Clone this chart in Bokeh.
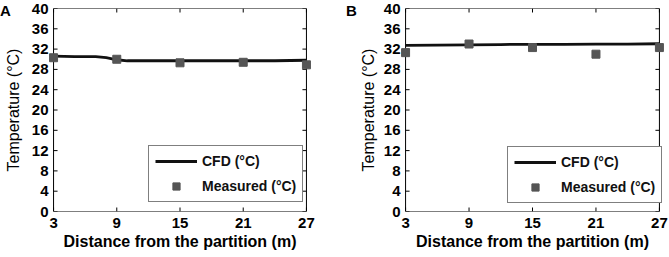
import math
from bokeh.plotting import figure
from bokeh.layouts import row
from bokeh.models import Legend, LegendItem, FixedTicker, Range1d, Div
from bokeh.embed import file_html
from bokeh.resources import INLINE

# Distance from the partition (m)
measured_x = [3, 9, 15, 21, 27]
x_ticks = [3, 9, 15, 21, 27]
y_ticks = [0, 4, 8, 12, 16, 20, 24, 28, 32, 36, 40]
x_min, x_max = 3, 27
y_min, y_max = 0, 40

# Panel A
cfd_a_x = [3, 5, 7, 8, 9, 10, 12, 15, 18, 21, 24, 27]
cfd_a_y = [30.6, 30.5, 30.5, 30.3, 29.9, 29.7, 29.7, 29.7, 29.7, 29.7, 29.7, 29.8]
meas_a = [30.3, 30.0, 29.3, 29.4, 28.9]

# Panel B
cfd_b_x = [3, 6, 9, 12, 15, 18, 21, 24, 27]
cfd_b_y = [32.75, 32.8, 32.85, 32.9, 32.95, 32.95, 33.0, 33.0, 33.05]
meas_b = [31.3, 33.0, 32.3, 31.0, 32.3]

FONT = "Liberation Sans"
PAD = 0.48  # extra room in x so edge markers are not clipped


def panel(cx, cy, my, left_border, frame_w, right_border, ylab_standoff, legend_x, legend_y):
    p = figure(frame_width=frame_w, frame_height=203,
               min_border_left=left_border, min_border_right=right_border,
               min_border_top=8, min_border_bottom=46,
               x_range=Range1d(x_min - PAD, x_max + PAD), y_range=Range1d(y_min, y_max),
               output_backend="svg", toolbar_location=None,
               x_axis_label="Distance from the partition (m)",
               y_axis_label="Temperature (\u00b0C)")
    p.grid.visible = False
    p.outline_line_color = None
    p.background_fill_color = "white"
    p.border_fill_color = None

    p.xaxis.ticker = FixedTicker(ticks=x_ticks)
    p.yaxis.ticker = FixedTicker(ticks=y_ticks)
    for ax in (p.xaxis[0], p.yaxis[0]):
        ax.major_tick_in = 0
        ax.major_tick_out = 0
        ax.minor_tick_line_color = None
        ax.axis_line_color = None
        ax.major_tick_line_color = None
        ax.major_label_text_font = FONT
        ax.major_label_text_font_style = "bold"
        ax.major_label_text_font_size = "15px"
        ax.major_label_text_color = "black"
        ax.axis_label_text_font = FONT
        ax.axis_label_text_font_size = "16px"
        ax.axis_label_text_color = "black"
    p.xaxis.axis_label_text_font_style = "bold"
    p.yaxis.axis_label_text_font_style = "normal"
    p.xaxis.major_label_standoff = 6
    p.xaxis.axis_label_standoff = 2
    p.yaxis.major_label_standoff = 0
    p.yaxis.axis_label_standoff = ylab_standoff

    # box around the data area
    p.segment(x0=[x_min, x_min, x_min, x_max], y0=[y_min, y_max, y_min, y_min],
              x1=[x_max, x_max, x_min, x_max], y1=[y_min, y_max, y_max, y_max],
              line_color="black", line_width=1)
    # inward tick marks on all four sides
    n_y, n_x = len(y_ticks), len(x_ticks)
    p.ray(x=[x_min] * n_y, y=y_ticks, length=4, length_units="screen", angle=0,
          line_color="black", line_width=1)
    p.ray(x=[x_max] * n_y, y=y_ticks, length=4, length_units="screen", angle=math.pi,
          line_color="black", line_width=1)
    p.ray(x=x_ticks, y=[y_min] * n_x, length=4, length_units="screen", angle=math.pi / 2,
          line_color="black", line_width=1)
    p.ray(x=x_ticks, y=[y_max] * n_x, length=4, length_units="screen", angle=-math.pi / 2,
          line_color="black", line_width=1)

    ln = p.line(cx, cy, line_color="#111111", line_width=2.8)
    sq = p.scatter(measured_x, my, marker="square", size=8,
                   fill_color="#555555", line_color="#555555")

    legend = Legend(items=[LegendItem(label="CFD (\u00b0C)", renderers=[ln]),
                           LegendItem(label="Measured (\u00b0C)", renderers=[sq])],
                    location=(legend_x, legend_y),
                    border_line_color="black", border_line_width=1,
                    background_fill_alpha=1.0,
                    label_text_font=FONT, label_text_font_size="14px",
                    label_text_font_style="bold", label_text_color="#111111",
                    glyph_width=42, glyph_height=18, spacing=7,
                    padding=6, margin=0, label_standoff=5)
    p.add_layout(legend, "center")
    return p


def letter(text, width):
    return Div(text=text, width=width, height=257, margin=0,
               styles={"font-family": FONT, "font-weight": "bold", "font-size": "15px",
                       "color": "black", "line-height": "1", "margin-top": "3px",
                       "overflow": "visible", "white-space": "nowrap"})


pa = panel(cfd_a_x, cfd_a_y, meas_a, 47, 263, 35, 7, 100, 9)
pb = panel(cfd_b_x, cfd_b_y, meas_b, 44, 264, 5, 4, 107, 8)

layout = row(letter("A", 1), pa, letter("B", 10), pb, spacing=0)
open("out.html", "w").write(file_html(layout, INLINE))
